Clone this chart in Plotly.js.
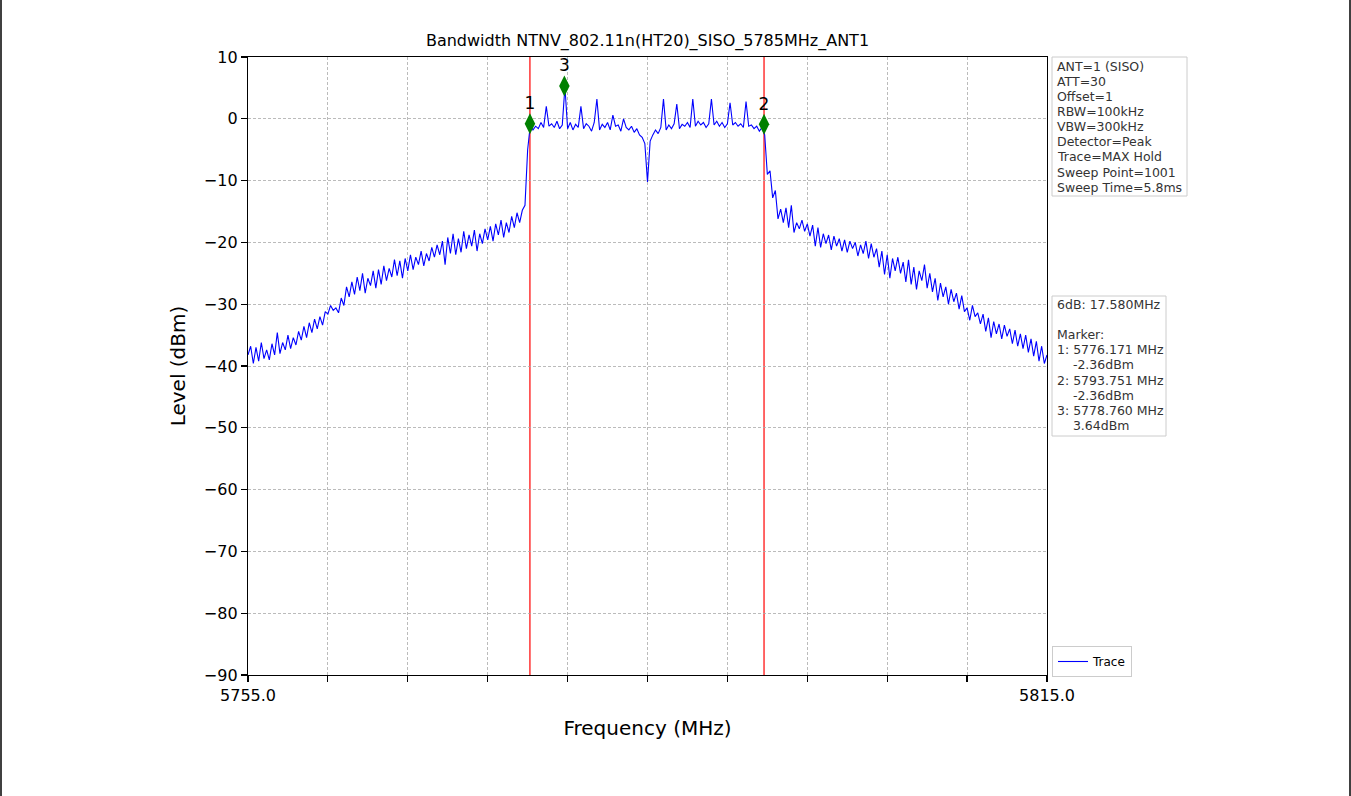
<!DOCTYPE html>
<html>
<head>
<meta charset="utf-8">
<script src="https://cdn.plot.ly/plotly-3.0.1.min.js"></script>
<style>html,body{margin:0;padding:0;background:#fff;}#chart{width:1351px;height:796px;}</style>
</head>
<body>
<div id="chart"></div>
<script>
// Sweep settings
const startFreq = 5755.0;
const stopFreq = 5815.0;
const sweepStep = 0.2;

// Trace levels (dBm), one per sweep step
const traceLevels = [
  -38.2,-36.8,-39.6,-37.0,-39.2,-36.2,-38.8,-37.4,-39.0,-36.4,
  -38.2,-34.6,-38.0,-36.2,-37.4,-35.0,-37.2,-35.4,-36.6,-34.4,
  -35.8,-33.6,-35.4,-33.0,-34.6,-32.4,-34.0,-32.0,-33.4,-31.2,
  -31.6,-30.2,-31.0,-30.6,-31.4,-29.0,-30.2,-27.2,-28.8,-26.4,
  -28.4,-25.6,-27.8,-25.0,-28.2,-25.8,-27.0,-24.6,-27.4,-24.4,
  -26.8,-23.8,-26.2,-24.2,-25.6,-22.8,-25.4,-23.0,-25.8,-22.6,
  -24.6,-22.0,-24.4,-22.4,-23.6,-21.4,-23.8,-21.8,-23.0,-20.8,
  -22.4,-20.4,-22.0,-19.8,-23.6,-19.2,-21.8,-18.6,-22.0,-19.4,
  -21.6,-18.2,-21.0,-18.8,-20.6,-18.0,-21.4,-18.6,-20.2,-17.8,
  -19.6,-17.4,-19.8,-17.0,-18.8,-16.4,-19.2,-16.8,-18.4,-15.8,
  -17.6,-15.2,-16.8,-14.8,-14.0,
  -5.0,
  -1.0,-1.8,-1.2,-1.6,-0.6,-1.4,2.0,-1.2,-0.8,
  -1.4,-0.4,-1.6,-1.0,5.2,-1.6,-0.6,-1.8,-0.9,-1.4,
  2.0,-1.6,-0.8,-1.2,-2.0,-0.6,3.2,-1.8,-0.9,-1.4,
  -0.6,-1.8,0.6,-1.2,-1.0,-2.0,0.0,-1.4,-1.8,-1.2,
  -2.2,-1.6,-2.6,-3.0,-4.0,-10.2,-3.6,-2.6,-1.8,-2.4,
  -1.4,3.2,-1.8,-1.0,-1.6,-0.8,2.4,-1.6,-0.9,-1.2,
  -0.6,-1.4,3.2,-1.2,-0.4,-1.0,-0.6,-1.4,-0.8,3.2,
  -1.0,-0.4,-1.2,-0.6,-1.4,-0.8,2.6,-1.0,-0.6,-1.2,
  -0.8,-1.4,2.8,-1.2,-1.0,-1.6,-1.2,-2.0,-1.4,
  -2.6,
  -9.0,-8.4,-12.8,-11.6,-16.2,-14.6,-16.8,-14.4,-17.6,-14.0,
  -18.4,-16.8,-17.8,-16.4,-18.2,-17.0,-19.0,-17.2,-20.6,-17.6,
  -20.8,-18.6,-20.2,-18.8,-21.2,-19.0,-20.6,-19.4,-21.4,-19.6,
  -21.6,-19.8,-21.0,-20.0,-22.2,-20.4,-21.8,-19.8,-22.6,-20.2,
  -22.4,-21.0,-24.0,-21.4,-25.2,-22.0,-25.8,-22.6,-24.6,-22.4,
  -25.0,-23.2,-26.4,-22.8,-26.8,-24.0,-27.6,-24.6,-26.2,-23.6,
  -27.4,-25.0,-28.0,-25.8,-29.4,-26.6,-28.8,-27.2,-30.0,-27.6,
  -29.6,-28.2,-30.8,-28.6,-31.2,-30.6,-32.6,-30.2,-32.0,-31.4,
  -33.2,-31.6,-34.4,-32.2,-35.4,-32.8,-34.8,-33.2,-35.6,-33.4,
  -35.2,-34.0,-36.4,-34.2,-36.8,-34.8,-37.2,-35.0,-37.8,-35.6,
  -38.4,-36.0,-39.2,-36.8,-39.6,-38.2
];

// Markers
const markerLabels = ["1", "2", "3"];
const markerFreqs = [5776.171, 5793.751, 5778.760];
const markerLevels = [-0.8, -0.9, 5.3];
const boundaryFreqs = [5776.171, 5793.751];

// Axis ticks
const xTickVals = [5755, 5761, 5767, 5773, 5779, 5785, 5791, 5797, 5803, 5809, 5815];
const xTickText = ["5755.0", "", "", "", "", "", "", "", "", "", "5815.0"];
const yTickVals = [10, 0, -10, -20, -30, -40, -50, -60, -70, -80, -90];

// Info texts
const infoLines = ["ANT=1 (SISO)", "ATT=30", "Offset=1", "RBW=100kHz", "VBW=300kHz",
  "Detector=Peak", "Trace=MAX Hold", "Sweep Point=1001", "Sweep Time=5.8ms"];
const resultLines = ["6dB: 17.580MHz", "", "Marker:", "1: 5776.171 MHz", "\u00a0\u00a0\u00a0\u00a0-2.36dBm",
  "2: 5793.751 MHz", "\u00a0\u00a0\u00a0\u00a0-2.36dBm", "3: 5778.760 MHz", "\u00a0\u00a0\u00a0\u00a03.64dBm"];
const titleText = "Bandwidth NTNV_802.11n(HT20)_SISO_5785MHz_ANT1";

const freqs = traceLevels.map((_, i) => +(startFreq + i * sweepStep).toFixed(3));

const FONT = "DejaVu Sans, sans-serif";
// pixel helpers for paper placement (plot area 248..1047 x 57..675)
const px = v => (v - 248) / 799;
const py = v => (675 - v) / 618;

const traces = [
  {
    x: freqs, y: traceLevels, type: "scatter", mode: "lines", name: "Trace",
    line: {color: "#0000ff", width: 1.1}
  },
  {
    x: markerFreqs, y: markerLevels, type: "scatter", mode: "markers+text",
    text: markerLabels, textposition: "top center",
    textfont: {family: FONT, size: 17, color: "#000"},
    marker: {symbol: "diamond-tall", size: 15, color: "#008000"},
    showlegend: false, cliponaxis: false, hoverinfo: "skip"
  }
];

const shapes = boundaryFreqs.map(f => ({
  type: "line", xref: "x", yref: "paper", x0: f, x1: f, y0: 0, y1: 1,
  line: {color: "#ff0000", width: 1.2}, layer: "below"
}));
// page edge lines
shapes.push({type: "line", xref: "paper", yref: "paper", x0: px(1), x1: px(1), y0: py(0), y1: py(796), line: {color: "#000", width: 1.5}});
shapes.push({type: "line", xref: "paper", yref: "paper", x0: px(1350), x1: px(1350), y0: py(0), y1: py(796), line: {color: "#000", width: 1.5}});
// info boxes
shapes.push({type: "rect", xref: "paper", yref: "paper", x0: px(1052), x1: px(1187), y0: py(57), y1: py(196), line: {color: "#cccccc", width: 1}, fillcolor: "#fff"});
shapes.push({type: "rect", xref: "paper", yref: "paper", x0: px(1052), x1: px(1166), y0: py(296), y1: py(436), line: {color: "#cccccc", width: 1}, fillcolor: "#fff"});

const annotations = [];
infoLines.forEach((t, i) => annotations.push({
  xref: "paper", yref: "paper", x: px(1055), y: py(66 + i * 15.15), xanchor: "left", yanchor: "middle",
  text: t, showarrow: false, font: {family: FONT, size: 12.5, color: "#333"}
}));
resultLines.forEach((t, i) => { if (t) annotations.push({
  xref: "paper", yref: "paper", x: px(1055), y: py(304 + i * 15.2), xanchor: "left", yanchor: "middle",
  text: t, showarrow: false, font: {family: FONT, size: 12.5, color: "#333"}
}); });

const layout = {
  width: 1351, height: 796,
  margin: {l: 248, r: 304, t: 57, b: 121},
  paper_bgcolor: "#fff", plot_bgcolor: "#fff",
  font: {family: FONT, color: "#000"},
  title: {text: titleText, font: {family: FONT, size: 16, color: "#000"}, x: 647.5 / 1351, xanchor: "center", y: 1 - 40 / 796, yanchor: "middle"},
  xaxis: {
    range: [startFreq, stopFreq], tickmode: "array", tickvals: xTickVals, ticktext: xTickText,
    ticks: "outside", ticklen: 6, tickwidth: 1.2, tickcolor: "#000",
    showline: true, linecolor: "#000", linewidth: 1.2, mirror: true,
    showgrid: true, gridcolor: "#aaaaaa", griddash: "3px,2px", gridwidth: 0.8,
    zeroline: false, tickfont: {family: FONT, size: 16, color: "#000"},
    title: {text: "Frequency (MHz)", font: {family: FONT, size: 20, color: "#000"}, standoff: 16}
  },
  yaxis: {
    range: [-90, 10], tickmode: "array", tickvals: yTickVals,
    ticks: "outside", ticklen: 6, tickwidth: 1.2, tickcolor: "#000",
    showline: true, linecolor: "#000", linewidth: 1.2, mirror: true,
    showgrid: true, gridcolor: "#aaaaaa", griddash: "3px,2px", gridwidth: 0.8,
    zeroline: false, tickfont: {family: FONT, size: 16, color: "#000"},
    title: {text: "Level (dBm)", font: {family: FONT, size: 20, color: "#000"}, standoff: 12}
  },
  showlegend: true,
  legend: {
    x: px(1052), y: py(677), xanchor: "left", yanchor: "bottom",
    bordercolor: "#cccccc", borderwidth: 1, bgcolor: "#fff",
    font: {family: FONT, size: 12, color: "#000"}
  },
  shapes: shapes,
  annotations: annotations
};

Plotly.newPlot("chart", traces, layout, {displayModeBar: false, staticPlot: true});
</script>
</body>
</html>
